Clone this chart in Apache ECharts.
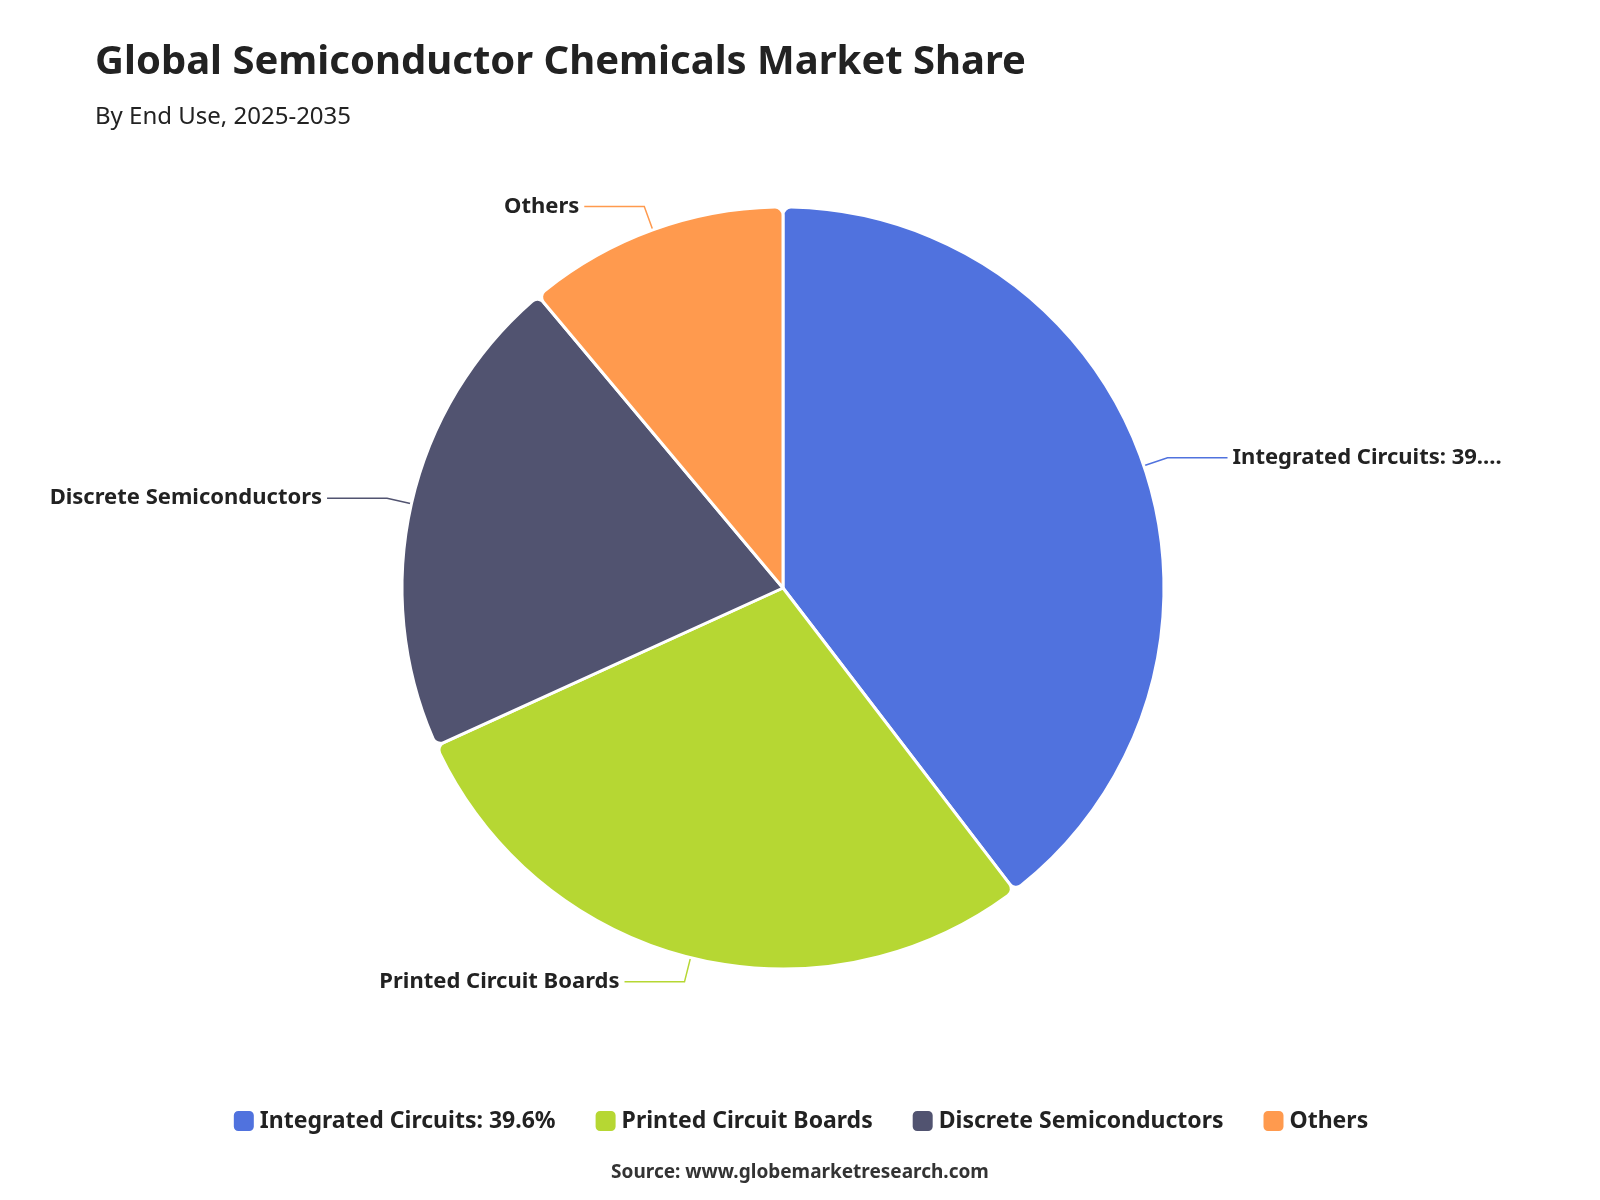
<!DOCTYPE html>
<html><head><meta charset="utf-8">
<script src="https://cdn.jsdelivr.net/npm/echarts@6/dist/echarts.min.js"></script>
<style>html,body{margin:0;padding:0;background:#fff}#c{width:1600px;height:1200px}</style>
</head><body><div id="c"></div>
<script>
const categories = ['Integrated Circuits: 39.6%', 'Printed Circuit Boards', 'Discrete Semiconductors', 'Others'];
const values = [39.6, 28.6, 20.7, 11.1];
const colors = ['#5072de', '#b6d733', '#515370', '#ff9a4e'];
const chart = echarts.init(document.getElementById('c'));
const F = 'Noto Sans';
chart.setOption({
  color: colors,
  title: {
    text: 'Global Semiconductor Chemicals Market Share',
    subtext: 'By End Use, 2025-2035',
    left: 90, top: 38,
    textStyle: {fontFamily: F, fontSize: 40, fontWeight: 'bold', color: '#222'},
    subtextStyle: {fontFamily: F, fontSize: 24, color: '#222'},
    itemGap: 22
  },
  legend: {
    bottom: 62, left: 'center', itemWidth: 22, itemHeight: 22, itemGap: 38,
    icon: 'roundRect',
    textStyle: {fontFamily: F, fontSize: 23, fontWeight: 'bold', color: '#222'}
  },
  graphic: [{type: 'text', left: 'center', bottom: 18,
    style: {text: 'Source: www.globemarketresearch.com', fontFamily: F, fontSize: 19, fontWeight: 'bold', fill: '#333'}}],
  series: [{
    type: 'pie', center: [783, 588], radius: [0, 381], startAngle: 90, clockwise: true,
    itemStyle: {borderColor: '#fff', borderWidth: 3, borderRadius: 8},
    label: {fontFamily: F, fontSize: 22, fontWeight: 'bold', color: '#222', formatter: '{b}',
      width: 280, overflow: 'truncate'},
    labelLine: {length: 25, length2: 60, lineStyle: {width: 1.5}},
    data: categories.map((c, i) => ({name: c, value: values[i]}))
  }]
});
</script></body></html>
